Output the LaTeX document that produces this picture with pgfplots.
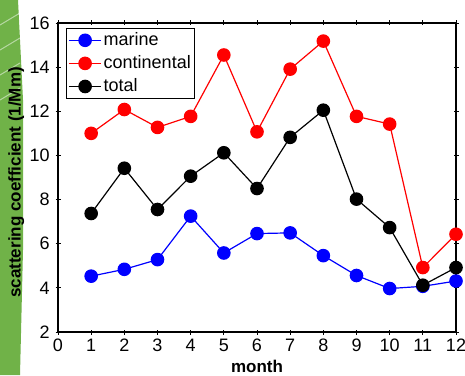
\documentclass[border=0pt]{standalone}
\usepackage{pgfplots}
\pgfplotsset{compat=1.18}
\usepackage{fontspec}
\setmainfont{Liberation Sans}
\definecolor{leaf}{RGB}{112,178,72}
\begin{document}
\fontsize{17}{20}\selectfont
\begin{tikzpicture}
\path[use as bounding box] (0pt,0pt) rectangle (465pt,375pt);
\fill[leaf] (0pt,375pt) -- (18pt,375pt) -- (23pt,275pt) -- (23pt,125pt) -- (20pt,0pt) -- (0pt,0pt) -- cycle;
\foreach \yy in {350,325,300,275} {\draw[white,opacity=0.5,line width=1pt] (0pt,\yy pt) -- (20pt,\yy pt+12pt);}
\begin{axis}[
  at={(58pt,43pt)}, anchor=south west,
  scale only axis, width=398pt, height=309pt,
  xmin=0, xmax=12, ymin=2, ymax=16,
  xtick={0,1,...,12}, ytick={2,4,...,16},
  tick align=center, major tick length=5pt,
  axis line style={line width=1.3pt}, tick style={line width=0.9pt, black},
  /pgf/number format/assume math mode=true,
  ticklabel style={font=\fontsize{18}{21}\selectfont},
  xticklabel style={yshift=1pt},
  xlabel={\bfseries month}, ylabel={\bfseries scattering coefficient (1/Mm)},
  label style={font=\fontsize{19.5}{22}\selectfont},
  every axis x label/.style={at={(axis description cs:0.5,-0.11)}, anchor=center},
  every axis y label/.style={at={(axis description cs:-0.105,0.484)}, rotate=90, anchor=center},
  legend style={at={(0.02,0.984)}, anchor=north west, draw=black, line width=1.1pt,
    font=\fontsize{18}{21}\selectfont, inner xsep=2pt, inner ysep=2pt, row sep=3.5pt},
  legend cell align=left,
  legend image code/.code={\draw[#1, mark repeat=2, mark phase=2] plot coordinates {(0pt,0pt) (16pt,0pt) (32pt,0pt)};},
  every axis plot/.append style={line width=1.2pt, mark=*, mark size=6.2pt},
]
\addplot[blue, mark options={fill=blue, draw=blue}] coordinates {
 (1,4.53) (2,4.84) (3,5.28) (4,7.25) (5,5.58) (6,6.46) (7,6.49) (8,5.46) (9,4.56) (10,3.97) (11,4.07) (12,4.31)};
\addlegendentry{marine}
\addplot[red, mark options={fill=red, draw=red}] coordinates {
 (1,11.0) (2,12.08) (3,11.27) (4,11.77) (5,14.55) (6,11.07) (7,13.91) (8,15.18) (9,11.77) (10,11.42) (11,4.92) (12,6.43)};
\addlegendentry{continental}
\addplot[black, mark options={fill=black, draw=black}] coordinates {
 (1,7.37) (2,9.42) (3,7.55) (4,9.06) (5,10.12) (6,8.5) (7,10.82) (8,12.05) (9,8.02) (10,6.73) (11,4.12) (12,4.92)};
\addlegendentry{total}
\end{axis}
\end{tikzpicture}
\end{document}
